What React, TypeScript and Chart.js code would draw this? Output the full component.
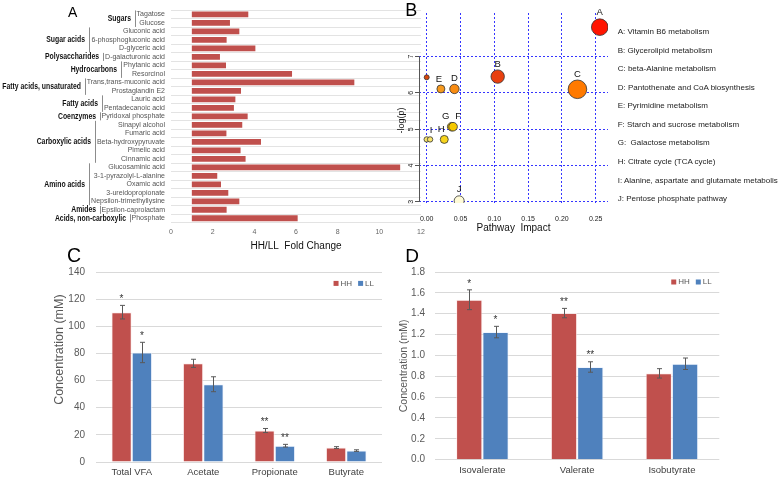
import React, { useEffect, useRef } from "react";
import { Chart, registerables } from "chart.js";

Chart.register(...registerables);

const FONT = "'Liberation Sans', Arial, Helvetica, sans-serif";
Chart.defaults.font.family = FONT;

// ---------- Panel A data ----------
const metabolites = [
  "Tagatose", "Glucose", "Gluconic acid", "6-phosphogluconic acid", "D-glyceric acid",
  "D-galacturonic acid", "Phytanic acid", "Resorcinol", "Trans,trans-muconic acid",
  "Prostaglandin E2", "Lauric acid", "Pentadecanoic acid", "Pyridoxal phosphate",
  "Sinapyl alcohol", "Fumaric acid", "Beta-hydroxypyruvate", "Pimelic acid", "Cinnamic acid",
  "Glucosaminic acid", "3-1-pyrazolyl-L-alanine", "Oxamic acid", "3-ureidopropionate",
  "Nepsilon-trimethyllysine", "Epsilon-caprolactam", "Phosphate",
];
const foldChange = [
  3.71, 2.83, 3.28, 2.67, 4.05, 2.35, 2.64, 5.81, 8.8, 3.36, 3.09, 3.02, 3.68,
  3.42, 2.66, 4.32, 3.34, 3.58, 11.0, 2.22, 2.4, 2.75, 3.28, 2.67, 6.08,
];
const foldBaseline = 1;
const groupNames = [
  "Sugars", "Sugar acids", "Polysaccharides", "Hydrocarbons", "Fatty acids, unsaturated",
  "Fatty acids", "Coenzymes", "Carboxylic acids", "Amino acids", "Amides", "Acids, non-carboxylic",
];
const groupSizes = [2, 3, 1, 2, 2, 2, 1, 5, 5, 1, 1];
const foldTicks = [0, 2, 4, 6, 8, 10, 12];

// ---------- Panel B data ----------
const pathwayLetters = ["A", "B", "C", "D", "E", "", "G", "F", "H", "", "I", "J"];
const pathwayImpact = [0.256, 0.105, 0.223, 0.041, 0.021, 0.0, 0.037, 0.039, 0.026, 0.0, 0.005, 0.048];
const pathwayLogP = [7.81, 6.45, 6.1, 6.11, 6.11, 6.43, 5.07, 5.07, 4.72, 4.72, 4.72, 3.03];
const pathwaySize = [8.3, 6.7, 9.3, 4.7, 4.0, 2.5, 4.3, 4.3, 4.0, 2.7, 2.7, 5.0];
const pathwayColors = [
  "#ff1400", "#e8400f", "#ff7a00", "#f98c12", "#f79a1e", "#d9480f",
  "#f2be00", "#f5c800", "#f7d41c", "#f8e46a", "#f8e46a", "#fffbd8",
];
const labelDx = [0, 0, 0, 0, -2, 0, -6, 5, -3, 0, 1, 0];
const impactTicks = [0, 0.05, 0.1, 0.15, 0.2, 0.25];
const logPTicks = [3, 4, 5, 6, 7];
const pathwayNames = [
  "A: Vitamin B6 metabolism",
  "B: Glycerolipid metabolism",
  "C: beta-Alanine metabolism",
  "D: Pantothenate and CoA biosynthesis",
  "E: Pyrimidine metabolism",
  "F: Starch and sucrose metabolism",
  "G:  Galactose metabolism",
  "H: Citrate cycle (TCA cycle)",
  "I: Alanine, aspartate and glutamate metabolism",
  "J: Pentose phosphate pathway",
];

// ---------- Panel C data ----------
const vfaCategories = ["Total VFA", "Acetate", "Propionate", "Butyrate"];
const vfaHH = [110.4, 72.7, 23.2, 10.6];
const vfaLL = [80.7, 57.3, 12.0, 8.4];
const vfaHHErr = [5, 3, 1.5, 0.7];
const vfaLLErr = [7.5, 5.5, 1.0, 0.6];
const vfaHHSig = ["*", "", "**", ""];
const vfaLLSig = ["*", "", "**", ""];

// ---------- Panel D data ----------
const bcCategories = ["Isovalerate", "Valerate", "Isobutyrate"];
const bcHH = [1.534, 1.406, 0.828];
const bcLL = [1.224, 0.889, 0.92];
const bcHHErr = [0.095, 0.045, 0.045];
const bcLLErr = [0.055, 0.05, 0.055];
const bcHHSig = ["*", "**", ""];
const bcLLSig = ["*", "**", ""];

const HH_COLOR = "#c0504d";
const LL_COLOR = "#4f81bd";

// ---------- plugins ----------
const groupPlugin = {
  id: "groupLabels",
  afterDraw(chart: any) {
    const ctx = chart.ctx;
    const ys = chart.scales.y;
    const right = chart.chartArea.left - 6;
    ctx.save();
    let idx = 0;
    groupNames.forEach((g, gi) => {
      const n = groupSizes[gi];
      ctx.font = `7px ${FONT}`;
      let maxW = 0;
      for (let k = idx; k < idx + n; k++) maxW = Math.max(maxW, ctx.measureText(metabolites[k]).width);
      const bx = Math.round(right - maxW - 2) + 0.5;
      const top = ys.getPixelForValue(idx) - 4;
      const bot = ys.getPixelForValue(idx + n - 1) + 4;
      ctx.strokeStyle = "#8c8c8c";
      ctx.lineWidth = 1;
      ctx.beginPath();
      ctx.moveTo(bx, top);
      ctx.lineTo(bx, bot);
      ctx.stroke();
      ctx.save();
      ctx.translate(bx - 4.5, (top + bot) / 2);
      ctx.scale(0.76, 1);
      ctx.font = `bold 9px ${FONT}`;
      ctx.textAlign = "right";
      ctx.textBaseline = "middle";
      ctx.fillStyle = "#111";
      ctx.fillText(g, 0, 0);
      ctx.restore();
      idx += n;
    });
    ctx.restore();
  },
};

const bubblePlugin = {
  id: "bubbleExtras",
  beforeDatasetsDraw(chart: any) {
    const ctx = chart.ctx;
    const ys = chart.scales.y;
    const x = Math.round(chart.chartArea.left) + 0.5;
    ctx.save();
    ctx.strokeStyle = "#555";
    ctx.lineWidth = 1;
    ctx.beginPath();
    ctx.moveTo(x, ys.getPixelForValue(logPTicks[logPTicks.length - 1]));
    ctx.lineTo(x, ys.getPixelForValue(logPTicks[0]));
    ctx.stroke();
    ctx.restore();
  },
  afterDatasetsDraw(chart: any) {
    const ctx = chart.ctx;
    const meta = chart.getDatasetMeta(0);
    ctx.save();
    ctx.font = `9.5px ${FONT}`;
    ctx.fillStyle = "#111";
    ctx.textAlign = "center";
    ctx.textBaseline = "middle";
    meta.data.forEach((el: any, j: number) => {
      const t = pathwayLetters[j];
      if (!t) return;
      ctx.fillText(t, el.x + labelDx[j], el.y - pathwaySize[j] - 6);
    });
    ctx.restore();
  },
};

const errorPlugin = {
  id: "errorBars",
  afterDatasetsDraw(chart: any) {
    const ctx = chart.ctx;
    const ys = chart.scales.y;
    chart.data.datasets.forEach((ds: any, i: number) => {
      const meta = chart.getDatasetMeta(i);
      meta.data.forEach((el: any, j: number) => {
        const v = ds.data[j];
        const e = ds.errors[j];
        const x = Math.round(el.x) + 0.5;
        const yt = ys.getPixelForValue(v + e);
        const yb = ys.getPixelForValue(v - e);
        ctx.save();
        ctx.strokeStyle = "#595959";
        ctx.lineWidth = 1;
        ctx.beginPath();
        ctx.moveTo(x, yt);
        ctx.lineTo(x, yb);
        ctx.moveTo(x - 2.5, yt);
        ctx.lineTo(x + 2.5, yt);
        ctx.moveTo(x - 2.5, yb);
        ctx.lineTo(x + 2.5, yb);
        ctx.stroke();
        const s = ds.sig[j];
        if (s) {
          ctx.fillStyle = "#333";
          ctx.font = `10px ${FONT}`;
          ctx.textAlign = "center";
          ctx.textBaseline = "alphabetic";
          ctx.fillText(s, el.x, yt - 3.3);
        }
        ctx.restore();
      });
    });
  },
};

// legend drawn inside the plot area, top-right, from the datasets
const cornerLegendPlugin = {
  id: "cornerLegend",
  afterDraw(chart: any) {
    const ctx = chart.ctx;
    const opts = chart.options.plugins.cornerLegend || {};
    const dy = opts.dy ?? 10;
    const margin = opts.margin ?? 8;
    const { right, top } = chart.chartArea;
    const cy = top + dy;
    ctx.save();
    ctx.font = `8px ${FONT}`;
    ctx.textBaseline = "middle";
    ctx.textAlign = "left";
    let x = right - margin;
    const ds = [...chart.data.datasets].reverse();
    ds.forEach((d: any) => {
      const w = ctx.measureText(d.label).width;
      const tx = x - w;
      ctx.fillStyle = "#595959";
      ctx.fillText(d.label, tx, cy);
      const bx = tx - 2 - 5;
      ctx.fillStyle = d.backgroundColor;
      ctx.fillRect(bx, cy - 2.5, 5, 5);
      x = bx - 6;
    });
    ctx.restore();
  },
};

function barPanel(
  canvas: HTMLCanvasElement,
  cats: string[], hh: number[], ll: number[], hhErr: number[], llErr: number[],
  hhSig: string[], llSig: string[],
  o: { padTop: number; padRight: number; yWidth: number; xHeight: number; max: number; step: number;
       decimals: number; titleSize: number; titlePad: number; catPct: number; tickPad: number;
       title: string; legendDy: number; legendMargin: number },
) {
  return new Chart(canvas, {
    type: "bar",
    data: {
      labels: cats,
      datasets: [
        { label: "HH", data: hh, backgroundColor: HH_COLOR, borderColor: "rgba(255,235,235,0.7)", borderWidth: 1,
          barPercentage: 1, categoryPercentage: o.catPct, errors: hhErr, sig: hhSig } as any,
        { label: "LL", data: ll, backgroundColor: LL_COLOR, borderColor: "rgba(235,242,255,0.7)", borderWidth: 1,
          barPercentage: 1, categoryPercentage: o.catPct, errors: llErr, sig: llSig } as any,
      ],
    },
    options: {
      animation: false,
      responsive: false,
      maintainAspectRatio: false,
      layout: { padding: { top: o.padTop, right: o.padRight, left: 0, bottom: 0 } },
      plugins: {
        tooltip: { enabled: false },
        legend: { display: false },
        cornerLegend: { dy: o.legendDy, margin: o.legendMargin },
      } as any,
      scales: {
        x: {
          grid: { display: false, drawTicks: false },
          border: { display: false },
          ticks: { color: "#404040", font: { size: 9.5 }, padding: 5, autoSkip: false, maxRotation: 0 },
          afterFit: (s: any) => { s.height = o.xHeight; },
        },
        y: {
          min: 0,
          max: o.max,
          grid: { color: "#d9d9d9", drawTicks: false },
          border: { display: false },
          ticks: {
            stepSize: o.step,
            color: "#595959",
            font: { size: 10 },
            padding: o.tickPad,
            callback: (v: any) => Number(v).toFixed(o.decimals),
          },
          title: {
            display: true,
            text: o.title,
            color: "#595959",
            font: { size: o.titleSize },
            padding: { top: o.titlePad, bottom: 0 },
          },
          afterFit: (s: any) => { s.width = o.yWidth; },
        },
      },
    },
    plugins: [errorPlugin, cornerLegendPlugin],
  });
}

export default function App() {
  const aRef = useRef<HTMLCanvasElement>(null);
  const bRef = useRef<HTMLCanvasElement>(null);
  const cRef = useRef<HTMLCanvasElement>(null);
  const dRef = useRef<HTMLCanvasElement>(null);

  useEffect(() => {
    const charts: Chart[] = [];

    // Panel A
    charts.push(
      new Chart(aRef.current!, {
        type: "bar",
        data: {
          labels: metabolites,
          datasets: [
            {
              data: foldChange.map((v) => [foldBaseline, v]) as any,
              backgroundColor: HH_COLOR,
              barPercentage: 0.68,
              categoryPercentage: 1,
            },
          ],
        },
        options: {
          indexAxis: "y",
          animation: false,
          responsive: false,
          maintainAspectRatio: false,
          layout: { padding: { top: 0, right: 9, left: 0, bottom: 0 } },
          plugins: { legend: { display: false }, tooltip: { enabled: false } },
          scales: {
            x: {
              min: foldTicks[0],
              max: foldTicks[foldTicks.length - 1],
              grid: { display: false, drawTicks: false },
              border: { display: false },
              ticks: { stepSize: 2, color: "#666", font: { size: 7 }, padding: 5, autoSkip: false, maxRotation: 0 },
              title: {
                display: true,
                text: "HH/LL  Fold Change",
                color: "#111",
                font: { size: 10 },
                padding: { top: 0, bottom: 2.3 },
              },
              afterFit: (s: any) => { s.height = 32.5; },
            },
            y: {
              grid: { color: "#e3e3e3", drawTicks: false, offset: true },
              border: { display: false },
              ticks: { color: "#555", font: { size: 7 }, padding: 6, autoSkip: false },
              afterFit: (s: any) => { s.width = 171; },
            },
          },
        },
        plugins: [groupPlugin],
      }),
    );

    // Panel B
    charts.push(
      new Chart(bRef.current!, {
        type: "bubble",
        data: {
          datasets: [
            {
              data: pathwayImpact.map((x, i) => ({ x, y: pathwayLogP[i], r: pathwaySize[i] })),
              backgroundColor: pathwayColors,
              borderColor: "#333",
              borderWidth: 0.8,
            },
          ],
        },
        options: {
          animation: false,
          responsive: false,
          maintainAspectRatio: false,
          layout: { padding: { top: 13, right: 17, left: 0, bottom: 0 } },
          plugins: { legend: { display: false }, tooltip: { enabled: false } },
          scales: {
            x: {
              type: "linear",
              min: -0.0114,
              max: 0.2682,
              afterBuildTicks: (s: any) => { s.ticks = impactTicks.map((v) => ({ value: v })); },
              grid: { color: "#3535ff", drawTicks: false },
              border: { display: false, dash: [2, 2] },
              ticks: {
                color: "#222",
                font: { size: 7 },
                padding: 11.8,
                autoSkip: false,
                maxRotation: 0,
                callback: (v: any) => Number(v).toFixed(2),
              },
              title: {
                display: true,
                text: "Pathway  Impact",
                color: "#111",
                font: { size: 10 },
                padding: { top: 0, bottom: 6 },
              },
              afterFit: (s: any) => { s.height = 37; },
            },
            y: {
              type: "linear",
              min: 2.97,
              max: 8.2,
              afterBuildTicks: (s: any) => { s.ticks = logPTicks.map((v) => ({ value: v })); },
              grid: { color: "#3535ff", drawTicks: true, tickLength: 4, tickColor: "#555", tickBorderDash: [] },
              border: { display: false, dash: [2, 2] },
              ticks: {
                color: "#222",
                font: { size: 7 },
                padding: 2,
                minRotation: 90,
                maxRotation: 90,
                crossAlign: "center",
                autoSkip: false,
              },
              title: {
                display: true,
                text: "-log(p)          ",
                color: "#111",
                font: { size: 9 },
                padding: { top: 1.3, bottom: 0 },
              },
              afterFit: (s: any) => { s.width = 24; },
            },
          },
        },
        plugins: [bubblePlugin],
      }),
    );

    // Panel C
    charts.push(
      barPanel(cRef.current!, vfaCategories, vfaHH, vfaLL, vfaHHErr, vfaLLErr, vfaHHSig, vfaLLSig, {
        padTop: 14.3, padRight: 8, yWidth: 96, xHeight: 16.7, max: 140, step: 20, decimals: 0,
        titleSize: 12.5, titlePad: 52.5, catPct: 0.57, tickPad: 11,
        title: "          Concentration (mM)", legendDy: 11.4, legendMargin: 8,
      }),
    );

    // Panel D
    charts.push(
      barPanel(dRef.current!, bcCategories, bcHH, bcLL, bcHHErr, bcLLErr, bcHHSig, bcLLSig, {
        padTop: 17, padRight: 58.7, yWidth: 45, xHeight: 19.3, max: 1.8, step: 0.2, decimals: 1,
        titleSize: 10.5, titlePad: 7.7, catPct: 0.555, tickPad: 10,
        title: "Concentration (mM)", legendDy: 10, legendMargin: 7.6,
      }),
    );

    return () => charts.forEach((c) => c.destroy());
  }, []);

  const letter = (t: string, left: number, top: number, size: number) => (
    <div style={{ position: "absolute", left, top, fontSize: size, lineHeight: 1, color: "#000" }}>{t}</div>
  );

  return (
    <div
      style={{
        position: "absolute",
        left: 0,
        top: 0,
        width: 778,
        height: 479,
        background: "#fff",
        overflow: "hidden",
        fontFamily: FONT,
      }}
    >
      <canvas ref={aRef} width={430} height={255} style={{ position: "absolute", left: 0, top: 0 }} />
      <canvas ref={bRef} width={230} height={240} style={{ position: "absolute", left: 395, top: 0 }} />
      <canvas ref={cRef} width={390} height={224} style={{ position: "absolute", left: 0, top: 255 }} />
      <canvas ref={dRef} width={388} height={224} style={{ position: "absolute", left: 390, top: 255 }} />
      <div
        style={{
          position: "absolute",
          left: 617.7,
          top: 23,
          fontSize: 8,
          lineHeight: "18.56px",
          color: "#222",
          whiteSpace: "pre",
        }}
      >
        {pathwayNames.map((n) => (
          <div key={n}>{n}</div>
        ))}
      </div>
      {letter("A", 68, 5.2, 14)}
      {letter("B", 405.3, 1, 18)}
      {letter("C", 67, 245.8, 19.5)}
      {letter("D", 405.2, 245.8, 19)}
    </div>
  );
}
